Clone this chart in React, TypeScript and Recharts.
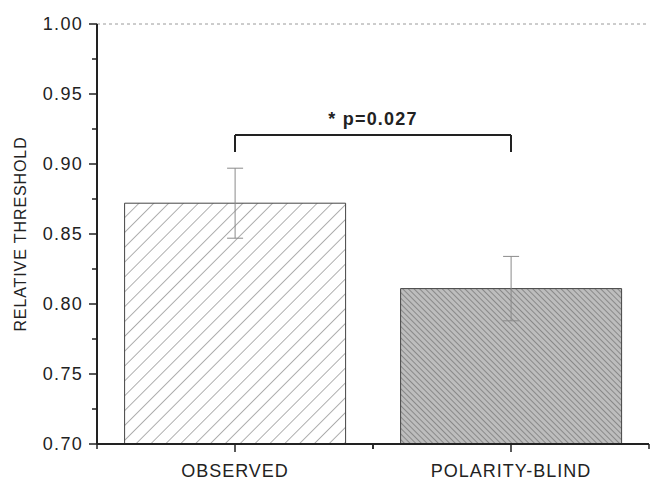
import React from 'react';
import { BarChart, Bar, XAxis, YAxis, Cell, ErrorBar, ReferenceLine } from 'recharts';

const categories = ['OBSERVED', 'POLARITY-BLIND'];
const thresholds = [0.872, 0.811];
const errors = [0.025, 0.023];
const yTicks = [0.7, 0.725, 0.75, 0.775, 0.8, 0.825, 0.85, 0.875, 0.9, 0.925, 0.95, 0.975, 1.0];
const bracketTop = 0.9207;
const bracketBottom = 0.9086;
const pLabel = '* p=0.027';

const data = categories.map((name, i) => ({
  name,
  value: thresholds[i],
  err: errors[i],
}));

const fills = ['url(#hatchLight)', 'url(#hatchDense)'];
const FONT = '"Liberation Sans", Arial, sans-serif';

const YTick = ({ x, y, payload }: any) => {
  const major = Math.round(payload.value * 1000) % 50 === 0;
  return (
    <g>
      <line x1={x - (major ? 8 : 5)} x2={x} y1={y} y2={y} stroke="#222" strokeWidth={1.5} />
      {major && (
        <text
          x={x - 14}
          y={y}
          dy="0.36em"
          textAnchor="end"
          fill="#222"
          fontSize={18}
          letterSpacing={1.3}
          fontFamily={FONT}
        >
          {payload.value.toFixed(2)}
        </text>
      )}
    </g>
  );
};

// category tick with small ticks at the band edges (axis line sits 20px above y)
const XTick = ({ x, y, payload }: any) => {
  const half = payload.offset || 0;
  return (
    <g>
      <line x1={x - half} x2={x - half} y1={y - 20} y2={y - 15} stroke="#222" strokeWidth={1.5} />
      <line x1={x + half} x2={x + half} y1={y - 20} y2={y - 15} stroke="#222" strokeWidth={1.5} />
      <text
        x={x}
        y={y}
        dy="0.71em"
        textAnchor="middle"
        fill="#222"
        fontSize={18}
        letterSpacing={1}
        fontFamily={FONT}
      >
        {payload.value}
      </text>
    </g>
  );
};

export default function App() {
  return (
    <div style={{ position: 'absolute', left: 0, top: 0, background: '#fff' }}>
      <BarChart
        width={652}
        height={483}
        data={data}
        margin={{ top: 24, right: 3, left: 0, bottom: 0 }}
        barCategoryGap="10%"
        style={{ fontFamily: FONT }}
      >
        <defs>
          <pattern id="hatchLight" width="10.5" height="10.5" patternUnits="userSpaceOnUse" patternTransform="rotate(45)">
            <rect width="10.5" height="10.5" fill="#fff" />
            <line x1="0" y1="0" x2="0" y2="10.5" stroke="#6e6e6e" strokeWidth="1.1" />
          </pattern>
          <pattern id="hatchDense" width="4" height="4" patternUnits="userSpaceOnUse" patternTransform="rotate(-45)">
            <rect width="4" height="4" fill="#bdbdbd" />
            <line x1="0" y1="0" x2="0" y2="4" stroke="#666" strokeWidth="1.2" />
          </pattern>
        </defs>
        <XAxis
          dataKey="name"
          tickSize={8}
          tickMargin={12}
          height={39}
          axisLine={{ stroke: '#222', strokeWidth: 2 }}
          tickLine={{ stroke: '#222', strokeWidth: 1.5 }}
          tick={<XTick />}
        />
        <YAxis
          domain={[0.7, 1.0]}
          ticks={yTicks}
          interval={0}
          width={97}
          tickSize={0}
          tickMargin={0}
          tickLine={false}
          axisLine={{ stroke: '#222', strokeWidth: 2 }}
          tick={<YTick />}
          label={{
            value: 'RELATIVE THRESHOLD',
            angle: -90,
            position: 'insideLeft',
            offset: 20,
            style: { textAnchor: 'middle', fill: '#222', fontSize: 16, letterSpacing: 0.9 },
          }}
        />
        <ReferenceLine y={1} stroke="#9a9a9a" strokeDasharray="3 3" strokeWidth={1} />
        <Bar dataKey="value" stroke="#444" strokeWidth={1} isAnimationActive={false}>
          {data.map((d, i) => (
            <Cell key={d.name} fill={fills[i]} />
          ))}
          <ErrorBar dataKey="err" width={8} stroke="#8a8a8a" strokeWidth={1} />
        </Bar>
        <ReferenceLine
          segment={[
            { x: categories[0], y: bracketTop },
            { x: categories[1], y: bracketTop },
          ]}
          stroke="#222"
          strokeWidth={2}
          label={{
            value: pLabel,
            position: 'top',
            offset: 10,
            style: { fill: '#222', fontSize: 18, fontWeight: 'bold', letterSpacing: 1.2 },
          }}
        />
        <ReferenceLine
          segment={[
            { x: categories[0], y: bracketTop },
            { x: categories[0], y: bracketBottom },
          ]}
          stroke="#222"
          strokeWidth={2}
        />
        <ReferenceLine
          segment={[
            { x: categories[1], y: bracketTop },
            { x: categories[1], y: bracketBottom },
          ]}
          stroke="#222"
          strokeWidth={2}
        />
      </BarChart>
    </div>
  );
}
